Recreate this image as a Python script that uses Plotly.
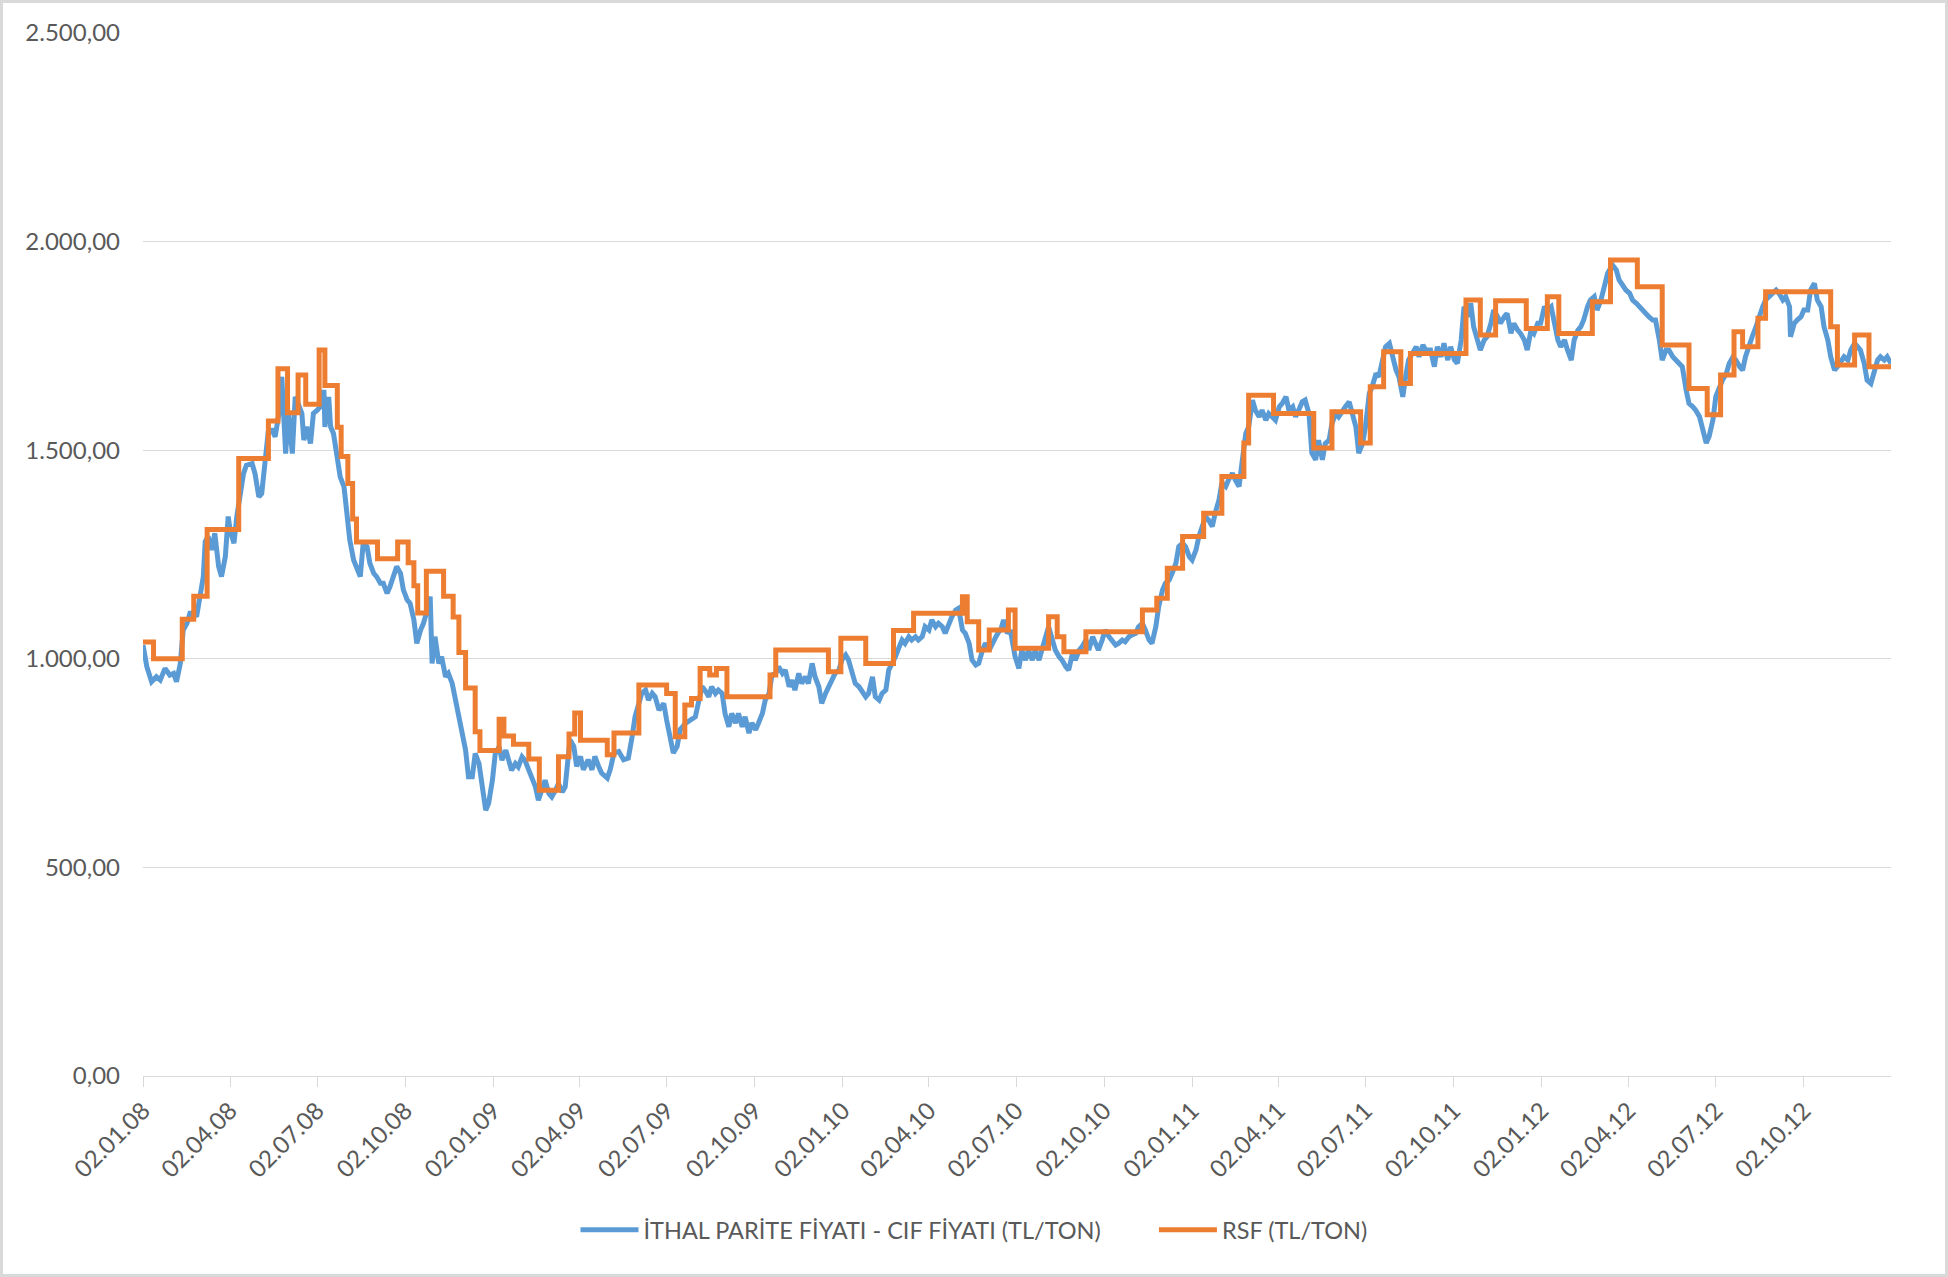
import pandas as pd
import plotly.graph_objects as go

start = pd.Timestamp("2008-01-02")

# RSF price steps: day offset from 02.01.08 where a new level begins, value in TL/ton
rsf_days = [0, 11, 41, 53, 67, 100, 131, 141, 151, 162, 170, 184, 190, 203, 207, 214, 219, 223,
            245, 266, 277, 283, 287, 296, 314, 324, 330, 337, 347, 352, 372, 377, 387, 403, 414,
            434, 445, 451, 457, 485, 492, 518, 547, 556, 566, 573, 582, 592, 599, 610, 655, 661,
            716, 729, 755, 784, 805, 856, 861, 873, 884, 904, 911, 946, 955, 962, 985, 1044, 1059,
            1070, 1086, 1108, 1127, 1150, 1155, 1181, 1223, 1242, 1272, 1282, 1296, 1314, 1324,
            1382, 1397, 1413, 1445, 1467, 1479, 1514, 1533, 1561, 1587, 1615, 1634, 1648, 1662,
            1671, 1687, 1695, 1763, 1770, 1788, 1803, 1826]
rsf_vals = [1040, 1000, 1095, 1150, 1310, 1480, 1570, 1695, 1590, 1680, 1610, 1740, 1655, 1555,
            1485, 1420, 1335, 1280, 1240, 1280, 1230, 1175, 1110, 1210, 1150, 1100, 1015, 930, 825,
            780, 855, 815, 795, 760, 685, 765, 820, 870, 805, 770, 822, 937, 917, 813, 889, 905, 977,
            961, 977, 909, 961, 1021, 969, 1049, 989, 1068, 1109, 1149, 1089, 1021, 1069, 1117, 1025,
            1101, 1053, 1017, 1065, 1117, 1145, 1217, 1293, 1349, 1437, 1517, 1632, 1588, 1505, 1592,
            1517, 1652, 1736, 1660, 1732, 1860, 1776, 1858, 1792, 1868, 1780, 1856, 1956, 1892, 1752,
            1648, 1585, 1680, 1784, 1748, 1816, 1880, 1796, 1704, 1776, 1700, 1700]

cif_days = [0, 4, 9, 14, 18, 23, 28, 32, 35, 39, 42, 46, 49, 53, 56, 60, 63, 65, 68, 72, 75, 79,
            82, 86, 89, 91, 95, 98, 102, 105, 108, 114, 117, 121, 124, 128, 131, 135, 138, 142, 145,
            149, 152, 156, 159, 162, 166, 168, 171, 175, 178, 182, 185, 189, 190, 194, 196, 199, 203,
            206, 210, 213, 216, 220, 223, 227, 230, 234, 237, 241, 244, 248, 251, 255, 258, 262, 265,
            269, 272, 276, 279, 283, 286, 290, 293, 297, 300, 302, 305, 309, 312, 316, 319, 323, 326,
            330, 333, 337, 340, 344, 347, 351, 354, 358, 361, 365, 368, 372, 375, 379, 382, 385, 389,
            392, 396, 399, 403, 406, 410, 413, 417, 420, 424, 427, 431, 434, 438, 441,
            446, 450, 453, 457, 460, 465, 469, 472, 476, 479, 485, 488, 492, 497, 502, 507, 511, 514,
            518, 521, 525, 528, 532, 535, 539, 544, 547, 551, 554, 558, 561, 567, 572, 577, 580, 584,
            587, 591, 594, 598, 601, 605, 608, 612, 615, 619, 622, 626, 629, 633, 636, 640, 643, 647,
            650, 654, 657, 661, 664, 668, 671, 675, 678, 681, 685, 688, 692, 695, 699, 702, 706, 709,
            713, 716, 720, 723, 727, 730, 734, 737, 741, 744, 748, 751, 755, 758, 762, 765, 769, 772,
            776, 779, 783, 786, 790, 793, 796, 800, 803, 807, 810, 814, 817, 821, 824, 828, 831, 835,
            838, 842, 845, 849, 852, 856, 859, 863, 866, 870, 873, 877, 880, 884, 887, 891, 894,
            896, 899, 903, 906, 911, 915, 918, 922, 925, 929, 932, 936, 939, 943, 946, 950, 953, 957,
            960, 964, 967, 971, 974, 978, 981, 985, 988, 992, 995, 998, 1002, 1005, 1009, 1012, 1016,
            1019, 1023, 1026, 1030, 1033, 1037, 1040, 1044, 1047, 1051, 1054, 1058, 1061, 1065, 1068,
            1072, 1075, 1079, 1082, 1086, 1089, 1093, 1096, 1100, 1103, 1107, 1110, 1113, 1117, 1120,
            1124, 1127, 1131, 1134, 1138, 1141, 1145, 1148, 1152, 1155, 1159, 1162, 1166, 1169, 1173,
            1176, 1180, 1183, 1187, 1190, 1194, 1197, 1201, 1204, 1208, 1211, 1214, 1218, 1221, 1225,
            1228, 1232, 1235, 1239, 1242, 1246, 1249, 1253, 1256, 1260, 1263, 1267, 1270, 1274, 1277,
            1281, 1284, 1288, 1291, 1295, 1298, 1302, 1305, 1309, 1312, 1316, 1319, 1322, 1326, 1330,
            1333, 1337, 1340,
            1345, 1349, 1352, 1356, 1359, 1363, 1366, 1370, 1373, 1377, 1380, 1384, 1387, 1390, 1394,
            1397, 1401, 1404, 1408, 1411, 1415, 1418, 1422, 1425, 1429, 1432, 1436, 1439, 1443, 1446,
            1450, 1453, 1457, 1460, 1464, 1467, 1471, 1474, 1478, 1481, 1485, 1488, 1492, 1495, 1499,
            1502, 1505, 1509, 1512, 1516, 1519, 1523, 1526, 1530, 1535, 1539, 1542, 1546, 1549, 1553,
            1556, 1560, 1563, 1566, 1570, 1573, 1577, 1580, 1584, 1587, 1591, 1594, 1598, 1601, 1605,
            1608, 1612, 1615, 1619, 1622, 1626, 1629, 1633, 1636, 1640, 1643, 1647, 1650, 1654, 1657,
            1661, 1664, 1668, 1671, 1674, 1678, 1681, 1685, 1688, 1692, 1695, 1699, 1702, 1706, 1709,
            1713, 1716, 1720, 1721, 1725, 1728, 1732, 1735, 1739, 1742, 1746, 1749, 1753, 1756, 1760,
            1763, 1767, 1770, 1774, 1777, 1781, 1784, 1788, 1791, 1794, 1798, 1801, 1805, 1808, 1812,
            1815, 1819, 1822, 1826]
cif_vals = [1033, 981, 945, 957, 949, 977, 961, 965, 945, 989, 1069, 1085, 1109, 1109, 1101, 1149,
            1197, 1281, 1293, 1261, 1301, 1221, 1197, 1245, 1341, 1309, 1277, 1341, 1405, 1444, 1464,
            1468, 1444, 1388, 1396, 1484, 1548, 1548, 1532, 1588, 1676, 1492, 1588, 1492, 1628, 1612,
            1588, 1524, 1556, 1516, 1588, 1596, 1604, 1644, 1556, 1628, 1556, 1540, 1476, 1436, 1412,
            1341, 1285, 1237, 1221, 1197, 1277, 1269, 1229, 1205, 1197, 1181, 1181, 1157, 1173, 1205,
            1221, 1205, 1165, 1141, 1133, 1093, 1037, 1069, 1085, 1117, 1149, 989, 1053, 989, 1005,
            957, 965, 941, 909, 869, 837, 781, 717, 717, 773, 749, 701, 637, 653, 709, 773, 789, 757,
            781, 757, 733, 749, 741, 765, 757, 733, 717, 693, 661, 685, 709, 677, 669, 685, 701, 681,
            693,
            806, 790, 742, 766, 734, 758, 734, 766, 742, 726, 714, 734, 774, 778, 758, 762, 814, 861,
            893, 917, 925, 901, 917, 909, 877, 893, 853, 806, 774, 790, 830, 846, 853, 861, 893, 933,
            925, 909, 933, 917, 925, 917, 869, 837, 869, 846, 869, 837, 861, 822, 846, 830, 846, 869,
            901, 917, 961, 965, 981, 965, 973, 933, 949, 925, 965, 941, 957, 941, 989, 957, 933, 893,
            917, 933, 949, 965, 973, 997, 1009, 997, 965, 941, 933, 921, 909, 917, 957, 909, 901, 917,
            925, 973, 989, 1005, 1029, 1045, 1037, 1053, 1045, 1053, 1045, 1053, 1077, 1069, 1093,
            1077, 1085, 1077, 1061, 1085, 1101, 1117, 1121, 1069, 1061, 1037, 997, 985, 989, 1021,
            1037, 1021, 1037, 1053, 1065,
            1069, 1093, 1061, 1069, 1005, 977, 1021, 997, 1021, 997, 1021, 997, 1021, 1053, 1077,
            1045, 1021, 1005, 997, 981, 973, 1013, 997, 1021, 1029, 1045, 1021, 1053, 1037, 1021,
            1045, 1069, 1053, 1045, 1033, 1037, 1045, 1041, 1053, 1057, 1061, 1077, 1085, 1069, 1045,
            1037, 1077, 1125, 1165, 1181, 1189, 1205, 1229, 1269, 1277, 1269, 1245, 1237, 1261, 1293,
            1325, 1341, 1333, 1317, 1349, 1381, 1421, 1413, 1429, 1445, 1429, 1413, 1469, 1540, 1556,
            1620, 1596, 1580, 1596, 1572, 1588, 1580, 1572, 1604, 1612, 1628, 1596, 1604, 1580, 1600,
            1616, 1620, 1588, 1493, 1477, 1524, 1477, 1516, 1524, 1564, 1588, 1580, 1596, 1604, 1616,
            1588, 1556, 1493, 1516, 1556, 1636, 1652, 1684, 1676, 1716, 1748, 1756, 1724, 1692, 1676,
            1628, 1676, 1716, 1732, 1748, 1724, 1752, 1740,
            1740, 1700, 1748, 1724, 1756, 1716, 1748, 1716, 1708, 1764, 1844, 1820, 1852, 1796, 1764,
            1740, 1764, 1772, 1804, 1836, 1820, 1804, 1820, 1828, 1780, 1804, 1788, 1780, 1764, 1740,
            1788, 1780, 1804, 1804, 1844, 1836, 1844, 1812, 1764, 1748, 1764, 1740, 1716, 1764, 1788,
            1796, 1812, 1844, 1860, 1868, 1836, 1860, 1884, 1924, 1944, 1932, 1908, 1892, 1884, 1876,
            1860, 1852, 1844, 1836, 1828, 1820, 1812, 1812, 1764, 1716, 1740, 1740, 1724, 1716, 1708,
            1700, 1644, 1612, 1604, 1596, 1580, 1557, 1517, 1533, 1573, 1629, 1652, 1668, 1684, 1708,
            1724, 1716, 1700, 1692, 1724, 1756, 1772, 1796, 1820, 1844, 1860, 1868, 1876, 1884, 1876,
            1860, 1868, 1844, 1772, 1804, 1812, 1820, 1836, 1836, 1884, 1900, 1860, 1844, 1796, 1764,
            1724, 1692, 1700, 1716, 1724, 1716, 1740, 1756, 1748, 1740, 1708, 1668, 1660, 1684, 1716,
            1724, 1716, 1724, 1708]

tick_dates = ["2008-01-02", "2008-04-02", "2008-07-02", "2008-10-02",
              "2009-01-02", "2009-04-02", "2009-07-02", "2009-10-02",
              "2010-01-02", "2010-04-02", "2010-07-02", "2010-10-02",
              "2011-01-02", "2011-04-02", "2011-07-02", "2011-10-02",
              "2012-01-02", "2012-04-02", "2012-07-02", "2012-10-02"]

cif_dates = start + pd.to_timedelta(cif_days, unit="D")
rsf_dates = start + pd.to_timedelta(rsf_days, unit="D")

W, H = 1948, 1277
ml, mr, mt, mb = 143, 57, 33, 201
pw, ph = W - ml - mr, H - mt - mb

grey_txt = "#595959"
grey_line = "#d9d9d9"

fig = go.Figure()
fig.add_trace(go.Scatter(
    x=cif_dates, y=cif_vals, mode="lines",
    # trailing nbsp's give the gap between the two legend items
    name="İTHAL PARİTE FİYATI - CIF FİYATI (TL/TON)" + "\u00a0" * 8,
    line=dict(color="#5B9BD5", width=5),
))
fig.add_trace(go.Scatter(
    x=rsf_dates, y=rsf_vals, mode="lines", line_shape="hv",
    name="RSF (TL/TON)",
    line=dict(color="#ED7D31", width=5),
))

fig.update_layout(
    width=W, height=H, autosize=False,
    margin=dict(l=ml, r=mr, t=mt, b=mb),
    paper_bgcolor="white", plot_bgcolor="white",
    separators=",.",
    font=dict(family="Lato", color=grey_txt, size=24),
    showlegend=True,
    # legend is centred on the whole figure, not on the plot area
    legend=dict(orientation="h", x=(W / 2 - ml) / pw, xanchor="center", y=(-154) / ph, yanchor="middle",
                font=dict(size=23.5, color=grey_txt), itemwidth=58),
    xaxis=dict(
        type="date", range=["2008-01-02", "2013-01-01"],
        tickvals=tick_dates, tickformat="%d.%m.%y", tickangle=-45,
        showgrid=False, zeroline=False,
        showline=True, linecolor=grey_line, linewidth=1,
        ticks="outside", ticklen=10, tickcolor=grey_line, tickwidth=1,
        tickfont=dict(size=24, color=grey_txt),
    ),
    yaxis=dict(
        range=[0, 2500], dtick=500, tickformat=",.2f",
        showgrid=True, gridcolor=grey_line, gridwidth=1,
        zeroline=False, showline=False, ticks="",
        ticklabelstandoff=22,
        tickfont=dict(size=24, color=grey_txt),
    ),
)

# light frame around the whole chart area
fig.add_shape(
    type="rect", xref="paper", yref="paper",
    x0=(1.5 - ml) / pw, x1=(W - 1.5 - ml) / pw,
    y0=(ph + mt - H + 1.5) / ph, y1=(ph + mt - 1.5) / ph,
    line=dict(color=grey_line, width=3), layer="below",
)

# drop the browser's default 8px body margin so the figure sits at the page corner
fig.write_html("out.html", config={"displayModeBar": False},
               post_script="document.body.style.margin='0';")
